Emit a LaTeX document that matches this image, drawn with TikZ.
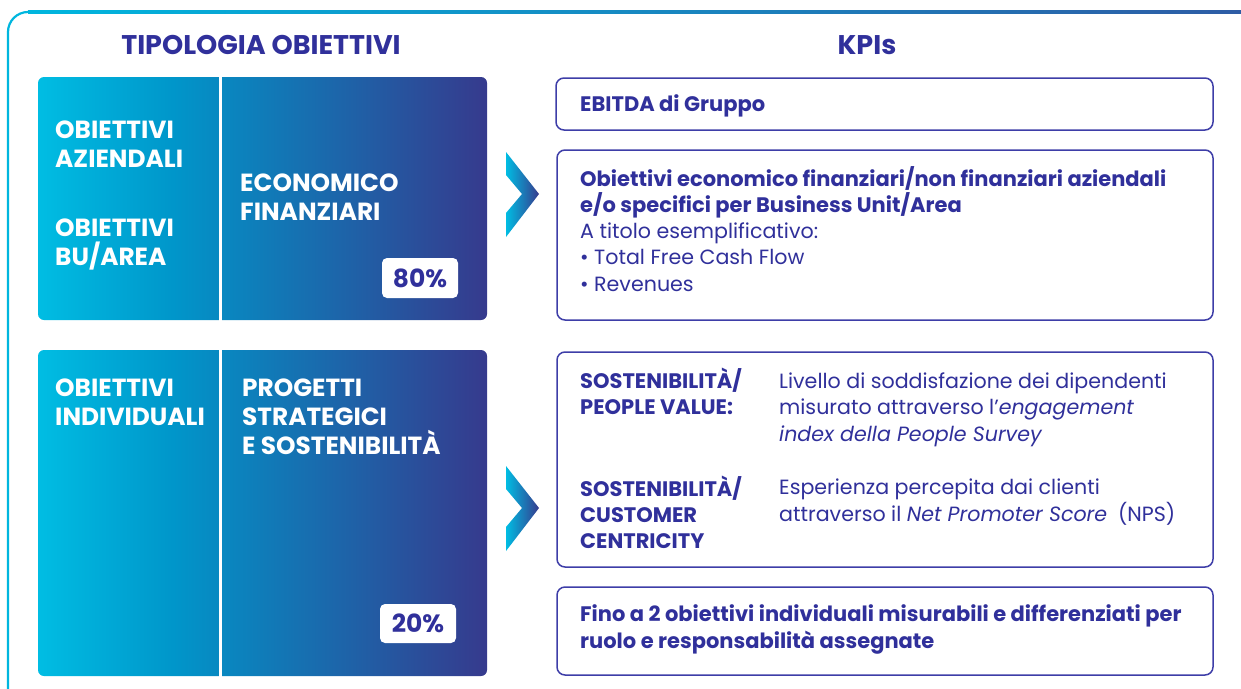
\documentclass[tikz,border=0pt]{standalone}
\usepackage{fontspec}
\setmainfont{Poppins}
\definecolor{navy}{RGB}{48,48,155}
\definecolor{bord}{RGB}{62,62,168}
\definecolor{gA}{RGB}{0,189,227}
\definecolor{gB}{RGB}{0,150,202}
\definecolor{gC}{RGB}{54,58,141}
\definecolor{lineA}{RGB}{0,182,222}
\definecolor{lineB}{RGB}{46,92,165}
\pgfdeclarehorizontalshading{objgrad}{100bp}{color(0bp)=(gA); color(25bp)=(gA); color(40bp)=(gB); color(75bp)=(gC); color(100bp)=(gC)}
\tikzset{
  objbox/.style={rounded corners=6pt, shading=objgrad},
  kpibox/.style={draw=bord, line width=1.5pt, rounded corners=8pt, fill=white},
  pctbox/.style={fill=white, rounded corners=5pt},
  chev/.style={left color=gA, right color=gC},
  wlbl/.style={text=white, font=\fontsize{24.8}{29}\selectfont\bfseries, align=left, inner sep=0pt, anchor=base west},
  title/.style={text=navy, font=\fontsize{27}{30}\selectfont\bfseries, inner sep=0pt, anchor=base},
  kbold/.style={text=navy, font=\fontsize{21}{26}\selectfont\bfseries, align=left, inner sep=0pt, anchor=base west},
  kreg/.style={text=navy, font=\fontsize{20.6}{26.5}\selectfont, align=left, inner sep=0pt, anchor=base west},
  pct/.style={text=navy, font=\fontsize{25}{28}\selectfont\bfseries, inner sep=0pt},
}
\begin{document}
\begin{tikzpicture}[x=1pt,y=-1pt]
\useasboundingbox (0,0) rectangle (1241,688);
% outer frame
\draw[lineA, line width=2.2pt] (8,690) -- (8,32) arc[start angle=180, end angle=270, radius=20] -- (29,12);
\shade[left color=lineA, right color=lineB] (28,10.9) rectangle (1241,13.1);
% titles
\node[title] (t1) at (261,54) {TIPOLOGIA OBIETTIVI};
\node[title] (t2) at (867,54) {KPIs};
% left boxes
\path[objbox] (38,77) rectangle (487,320);
\draw[white, line width=3pt] (220.5,76) -- (220.5,321);
\path[objbox] (38,350) rectangle (487,676);
\draw[white, line width=3pt] (220.5,349) -- (220.5,677);
\node[wlbl] (oa) at (55,167) {OBIETTIVI\\AZIENDALI};
\node[wlbl] (ob) at (55,265) {OBIETTIVI\\BU/AREA};
\node[wlbl] (ef) at (240,220) {ECONOMICO\\FINANZIARI};
\node[wlbl] (oi) at (55,425) {OBIETTIVI\\INDIVIDUALI};
\node[wlbl] (ps) at (242,454) {PROGETTI\\STRATEGICI\\E SOSTENIBILITÀ};
\node[pctbox, minimum width=76pt, minimum height=40pt] (p80) at (420,278) {};
\node[pct] (p80t) at (p80) {80\%};
\node[pctbox, minimum width=76pt, minimum height=39pt] (p20) at (418,623.5) {};
\node[pct] (p20t) at (p20) {20\%};
% chevrons
\path[chev] (506,152) -- (539,194) -- (506,237) -- (506,213) -- (522,194) -- (506,175) -- cycle;
\path[chev] (506,466) -- (539,508) -- (506,551) -- (506,527) -- (522,508) -- (506,489) -- cycle;
% KPI boxes
\draw[kpibox] (556,78) rectangle (1213,130);
\node[kbold] (k1) at (580,111) {EBITDA di Gruppo};
\draw[kpibox] (557,150) rectangle (1213,320);
\node[kbold] (k2) at (580,212) {Obiettivi economico finanziari/non finanziari aziendali\\e/o specifici per Business Unit/Area};
\node[kreg] (k2b) at (580,291) {A titolo esemplificativo:\\• Total Free Cash Flow\\• Revenues};
\draw[kpibox] (557,352) rectangle (1213,567);
\node[kbold] (s1) at (580,414) {SOSTENIBILITÀ/\\PEOPLE VALUE:};
\node[kreg] (d1) at (779,441) {Livello di soddisfazione dei dipendenti\\misurato attraverso l’\textit{engagement}\\\textit{index della People Survey}};
\node[kbold] (s2) at (580,548) {SOSTENIBILITÀ/\\CUSTOMER\\CENTRICITY};
\node[kreg] (d2) at (779,521) {Esperienza percepita dai clienti\\attraverso il \textit{Net Promoter Score}\ \ (NPS)};
\draw[kpibox] (557,587) rectangle (1213,675);
\node[kbold, font=\fontsize{21}{27}\selectfont\bfseries] (k4) at (580,648) {Fino a 2 obiettivi individuali misurabili e differenziati per\\ruolo e responsabilità assegnate};
\end{tikzpicture}
\end{document}
